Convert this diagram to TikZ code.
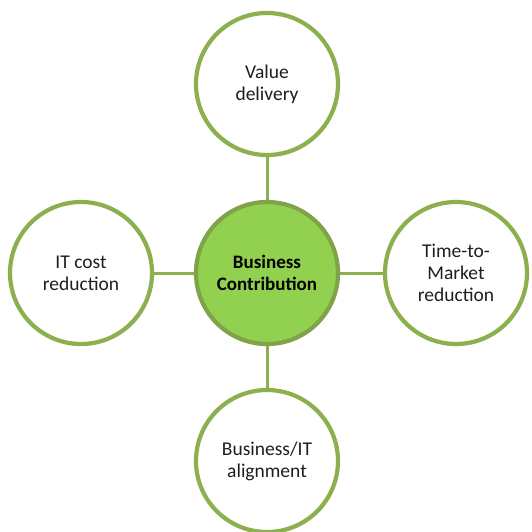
\documentclass[tikz,border=0pt]{standalone}
\usepackage{fontspec}
\setmainfont{Carlito}
\usetikzlibrary{shadows}
\definecolor{ringgreen}{RGB}{140,176,78}
\definecolor{coregreen}{RGB}{146,208,80}
\definecolor{coreborder}{RGB}{128,162,72}
\definecolor{textgray}{RGB}{30,30,30}
\tikzset{
  leaf/.style={circle, draw=ringgreen, line width=4.2pt, fill=white, minimum size=142pt,
    inner sep=0pt, align=center, text=textgray, font=\fontsize{19.5}{22}\selectfont,
    drop shadow={opacity=0.25, shadow xshift=1pt, shadow yshift=-2pt}},
  core/.style={circle, draw=coreborder, line width=4.2pt, fill=coregreen, minimum size=142pt,
    inner sep=0pt, align=center, text=black, font=\fontsize{19}{22}\selectfont\bfseries,
    drop shadow={opacity=0.25, shadow xshift=1pt, shadow yshift=-2pt}},
  link/.style={draw=ringgreen, line width=3pt}
}
\begin{document}
\begin{tikzpicture}[x=1pt,y=-1pt]
\useasboundingbox (0,0) rectangle (532,532);
\node[core] (c) at (267,273) {Business\\Contribution};
\node[leaf] (t) at (267,84) {Value\\delivery};
\node[leaf] (l) at (81,273) {IT cost\\reduction};
\node[leaf] (r) at (456,273) {Time-to-\\Market\\reduction};
\node[leaf] (b) at (267,461) {Business/IT\\alignment};
\draw[link] (t) -- (c);
\draw[link] (c) -- (b);
\draw[link] (l) -- (c);
\draw[link] (c) -- (r);
\end{tikzpicture}
\end{document}
